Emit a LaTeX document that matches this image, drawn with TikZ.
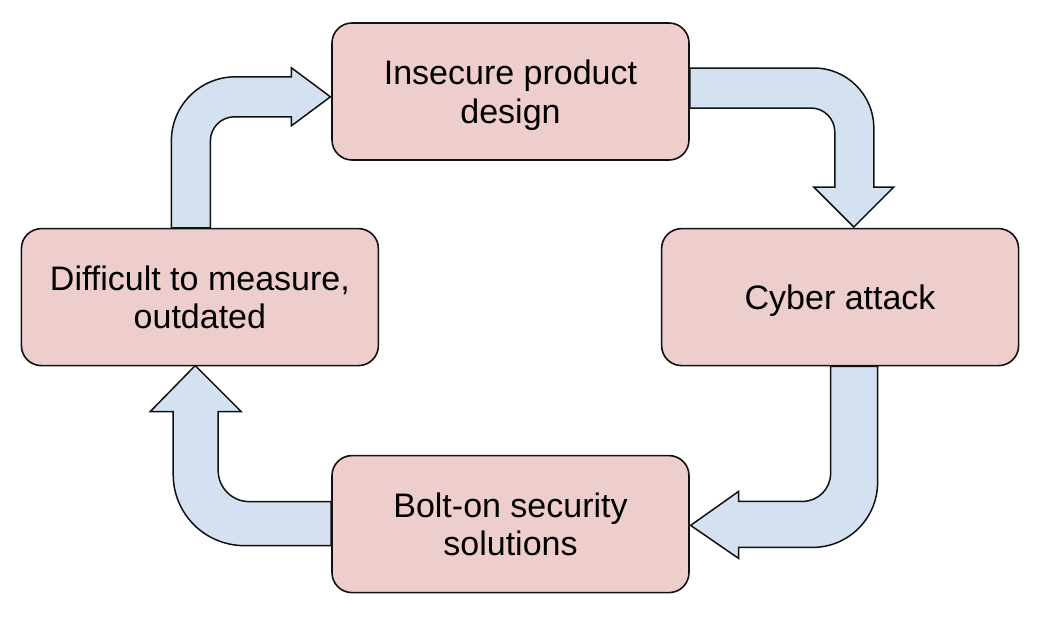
\documentclass[tikz,border=0pt]{standalone}
\usepackage{fontspec}
\setmainfont{Liberation Sans}
\usepackage{tikz}
\usetikzlibrary{positioning,calc,backgrounds}
\definecolor{blush}{HTML}{EECDCD}
\definecolor{mist}{HTML}{D3E1F1}
\definecolor{ink}{HTML}{111111}
\tikzset{
  causebox/.style={
    rectangle, rounded corners=20pt, draw=ink, fill=blush, line width=1.6pt,
    minimum width=357pt, minimum height=137pt,
    font=\fontsize{34}{38.5}\selectfont, align=center,
    text depth=0pt, inner sep=4pt
  },
  blockarrow/.style={
    draw=ink, fill=mist, line width=1.5pt, line join=miter
  },
}
\begin{document}
\begin{tikzpicture}[x=1pt, y=1pt]

  \useasboundingbox (0,0) rectangle (1046,-626);

  % Top box, the others placed around it
  \node[causebox] (design) at (510.5,-91.5) {Insecure product\\design};
  \node[causebox, below right=67pt and -29pt of design] (attack) {Cyber attack};
  \node[causebox, below=294pt of design] (bolton) {Bolt-on security\\solutions};
  \node[causebox, below left=67pt and -48pt of design] (measure) {Difficult to measure,\\outdated};

  \begin{scope}[on background layer]
    % design -> attack
    \draw[blockarrow] ([yshift=23.5pt]design.east) -- ++(124,0)
      arc[start angle=90, end angle=0, radius=60] -- ++(0,-59)
      -- ++(20,0) -- ++(-40,-40) -- ++(-40,40) -- ++(21,0) -- ++(0,55)
      arc[start angle=0, end angle=90, radius=24] -- ++(-121,0) -- cycle;
    % attack -> bolt-on
    \draw[blockarrow] ([xshift=-9.5pt]attack.south) -- ++(0,-107)
      arc[start angle=0, end angle=-90, radius=28] -- ++(-64,0)
      -- ++(0,10) -- ++(-48,-34) -- ++(48,-33) -- ++(0,11) -- ++(74,0)
      arc[start angle=-90, end angle=0, radius=65] -- ++(0,116) -- cycle;
    % bolt-on -> measure
    \draw[blockarrow] ([yshift=22.5pt]bolton.west) -- ++(-82,0)
      arc[start angle=-90, end angle=-180, radius=31] -- ++(0,59)
      -- ++(23,0) -- ++(-46,46) -- ++(-45,-46) -- ++(23,0) -- ++(0,-63)
      arc[start angle=180, end angle=270, radius=71] -- ++(87,0) -- cycle;
    % measure -> design
    \draw[blockarrow] ([xshift=10.5pt]measure.north) -- ++(0,87)
      arc[start angle=180, end angle=90, radius=24] -- ++(57,0)
      -- ++(0,-9) -- ++(39,29) -- ++(-39,29) -- ++(0,-9) -- ++(-56,0)
      arc[start angle=90, end angle=180, radius=64] -- ++(0,-87) -- cycle;
  \end{scope}

\end{tikzpicture}
\end{document}
